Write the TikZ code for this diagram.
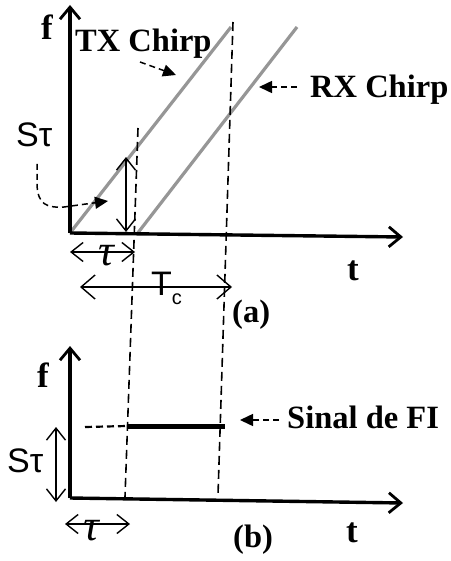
\documentclass[tikz,border=0pt]{standalone}
\usepackage{fontspec}
\setmainfont{Liberation Serif}
\newfontfamily\sansf{Liberation Sans}
\usetikzlibrary{arrows.meta}
\definecolor{chirpgray}{RGB}{150,150,150}
\begin{document}
\begin{tikzpicture}[x=1pt,y=-1pt,
 axis/.style={line width=3.4pt,-{Straight Barb[length=12pt,width=20pt,line width=2.8pt]}},
 chirp/.style={line width=3.2pt,draw=chirpgray},
 guide/.style={line width=1.6pt,dash pattern=on 9pt off 5pt},
 dimarrow/.style={line width=1.4pt,{Straight Barb[length=12pt,width=19pt]}-{Straight Barb[length=12pt,width=19pt]}},
 pointer/.style={line width=1.5pt,dash pattern=on 6pt off 4pt,-{Triangle[length=13pt,width=12pt]}},
 lbl/.style={font=\fontsize{32.5}{36}\selectfont\bfseries, inner sep=0pt, anchor=base west},
 axlbl/.style={font=\fontsize{35}{38}\selectfont\bfseries, inner sep=0pt, anchor=base},
 sflbl/.style={font=\fontsize{34}{38}\selectfont\sansf, inner sep=0pt, anchor=base west},
 taulbl/.style={font=\fontsize{44}{48}\selectfont\itshape, inner sep=0pt}
]
\useasboundingbox (0,0) rectangle (450,561);
% ---------- (a) ----------
\coordinate (O1) at (70,233);
\coordinate (F1) at (70,5);
\coordinate (T1) at (403,237);
\coordinate (txe) at (231,27);
\coordinate (rxs) at (137,234);
\coordinate (rxe) at (297,27);
\draw[chirp] (O1) -- (txe);
\draw[chirp] (rxs) -- (rxe);
\draw[axis] (O1) -- (F1);
\draw[axis] (O1) -- (T1);
% guides
\coordinate (g1a) at (138,128);
\coordinate (g1b) at (125,497);
\coordinate (g2a) at (233,22);
\coordinate (g2b) at (218,495);
\draw[guide] (g1a) -- (g1b);
\draw[guide] (g2a) -- (g2b);
% labels
\node[axlbl] (fa) at (47,40) {f};
\node[axlbl] (ta) at (353,280) {t};
\node[lbl] (txl) at (75,52) {TX Chirp};
\node[lbl] (rxl) at (310,98) {RX Chirp};
\node[lbl] (la) at (232,322) {(a)};
\node[sflbl] (sta) at (16,147) {Sτ};
% pointers
\coordinate (txp1) at (140,62);
\coordinate (txp2) at (176,75);
\draw[pointer] (txp1) -- (txp2);
\coordinate (rxp1) at (297,87);
\coordinate (rxp2) at (259,87);
\draw[pointer] (rxp1) -- (rxp2);
\coordinate (stp1) at (37,164);
\coordinate (stp2) at (108,201);
\draw[pointer] (stp1) -- (37,185) .. controls (38,204) and (46,208) .. (64,207) -- (stp2);
% dimension arrows
\coordinate (sv1) at (126,157);
\coordinate (sv2) at (126,232);
\draw[dimarrow] (sv1) -- (sv2);
\coordinate (ta1) at (70,252);
\coordinate (ta2) at (135,252);
\draw[dimarrow] (ta1) -- (ta2);
\node[taulbl] (taua) at (106,256) {τ};
\coordinate (tc1) at (80,287);
\coordinate (tc2) at (232,287);
\draw[line width=1.4pt,{Straight Barb[length=14pt,width=24pt]}-{Straight Barb[length=14pt,width=24pt]}] (tc1) -- (tc2);
\node[sflbl] (tcl) at (151,295) {T\raisebox{-9pt}{\fontsize{20}{21}\selectfont c}};
% ---------- (b) ----------
\coordinate (O2) at (70,498);
\coordinate (F2) at (70,346);
\coordinate (T2) at (403,503);
\draw[axis] (O2) -- (F2);
\draw[axis] (O2) -- (T2);
\node[axlbl] (fb) at (43,387) {f};
\node[axlbl] (tb) at (352,542) {t};
\node[lbl] (lb) at (233,547) {(b)};
\coordinate (fi0) at (85,427);
\coordinate (fi1) at (127,426);
\coordinate (fi2) at (225,426);
\draw[line width=2.2pt,dash pattern=on 7pt off 4pt] (fi0) -- (fi1);
\draw[line width=5pt] (fi1) -- (fi2);
\node[lbl] (fil) at (287,428) {Sinal de FI};
\coordinate (fip1) at (279,420);
\coordinate (fip2) at (240,420);
\draw[pointer] (fip1) -- (fip2);
\node[sflbl] (stb) at (7,472) {Sτ};
\coordinate (sb1) at (56,427);
\coordinate (sb2) at (56,502);
\draw[dimarrow] (sb1) -- (sb2);
\coordinate (tb1) at (65,524);
\coordinate (tb2) at (130,524);
\draw[dimarrow] (tb1) -- (tb2);
\node[taulbl] (taub) at (91,531) {τ};
\end{tikzpicture}
\end{document}
